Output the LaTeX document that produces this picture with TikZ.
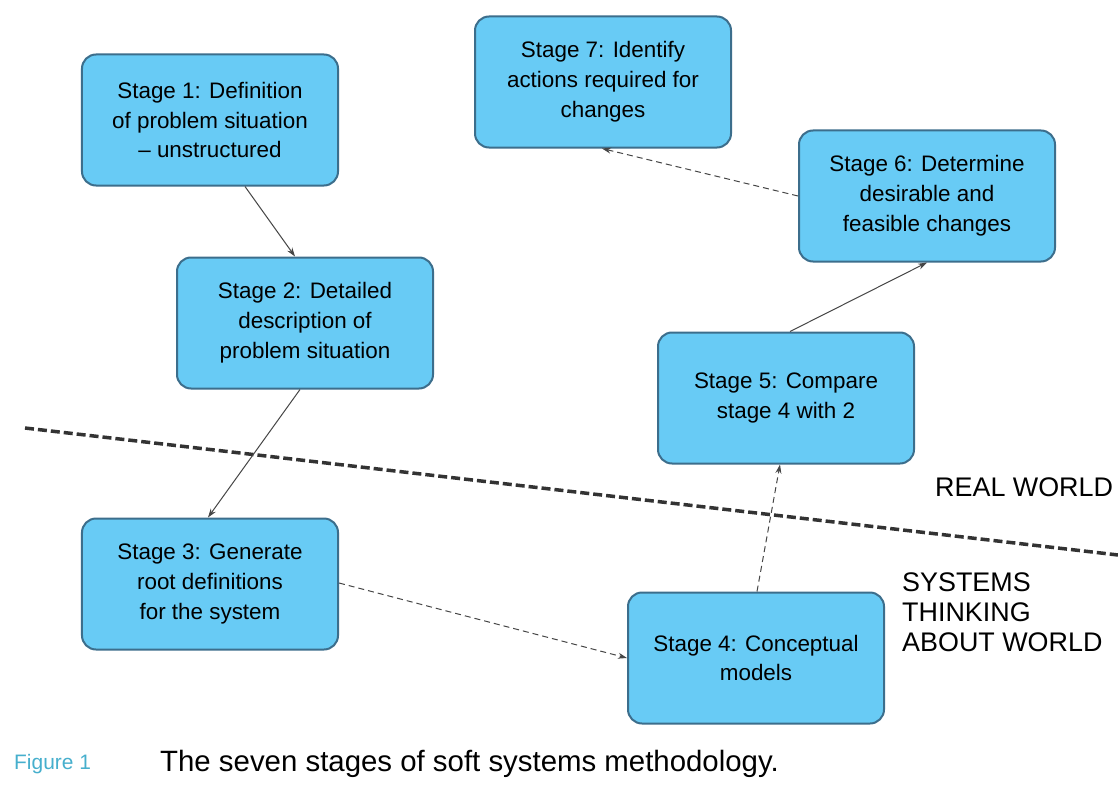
\documentclass[tikz,border=0pt]{standalone}
\usepackage{fontspec}
\setmainfont{Liberation Sans}
\usetikzlibrary{arrows.meta}
\definecolor{boxfill}{RGB}{104,203,245}
\definecolor{boxline}{RGB}{60,110,140}
\definecolor{figcol}{RGB}{70,175,205}
\definecolor{linkcol}{RGB}{70,70,70}
\tikzset{
  stagebox/.style={draw=boxline, line width=2bp, fill=boxfill, rounded corners=14bp,
    minimum width=256bp, minimum height=131bp, align=center,
    font=\fontsize{22.5}{30}\selectfont, inner sep=4bp},
  link/.style={draw=linkcol, line width=1bp, -{Stealth[length=9bp,width=6bp]}},
  dlink/.style={link, dash pattern=on 6bp off 4bp},
  worldlabel/.style={font=\fontsize{27}{30}\selectfont, align=left, inner sep=0pt, anchor=west},
  divider/.style={draw=black!80, line width=3.5bp, dash pattern=on 9bp off 4bp}
}
\begin{document}
\begin{tikzpicture}[x=1bp,y=-1bp]
\useasboundingbox (0,0) rectangle (1118,793);
\fill[white] (0,0) rectangle (1118,793);
\coordinate (dl) at (25,428);
\coordinate (dr) at (1118,555);
\draw[divider] (dl) -- (dr);
\node[stagebox] (s1) at (210,120) {Stage 1: Definition\\of problem situation\\– unstructured};
\node[stagebox] (s2) at (305,323) {Stage 2: Detailed\\description of\\problem situation};
\node[stagebox] (s3) at (210,584) {Stage 3: Generate\\root definitions\\for the system};
\node[stagebox] (s4) at (756,658) {Stage 4: Conceptual\\models};
\node[stagebox] (s5) at (786,398) {Stage 5: Compare\\stage 4 with 2};
\node[stagebox] (s6) at (927,196) {Stage 6: Determine\\desirable and\\feasible changes};
\node[stagebox] (s7) at (603,82) {Stage 7: Identify\\actions required for\\changes};
\coordinate (a1) at ([xshift=35bp]s1.south);
\draw[link] (a1) -- ([xshift=-10bp]s2.north);
\draw[link] ([xshift=-5bp]s2.south) -- ([xshift=-2bp]s3.north);
\draw[dlink] ([yshift=1bp]s3.east) -- (s4.west);
\draw[dlink] ([xshift=1bp]s4.north) -- ([xshift=-6bp]s5.south);
\draw[link] ([xshift=4bp]s5.north) -- (s6.south);
\draw[dlink] (s6.west) -- ([xshift=-1bp]s7.south);
\node[worldlabel] (rw) at (935,487) {REAL WORLD};
\node[worldlabel] (st) at (902,612) {SYSTEMS\\THINKING\\ABOUT WORLD};
\node[anchor=west, inner sep=0pt, text=figcol, font=\fontsize{21}{26}\selectfont] (fig) at (14,764) {Figure 1};
\node[anchor=west, inner sep=0pt, font=\fontsize{29.5}{32}\selectfont] (cap) at (160,764) {The seven stages of soft systems methodology.};
\end{tikzpicture}
\end{document}
